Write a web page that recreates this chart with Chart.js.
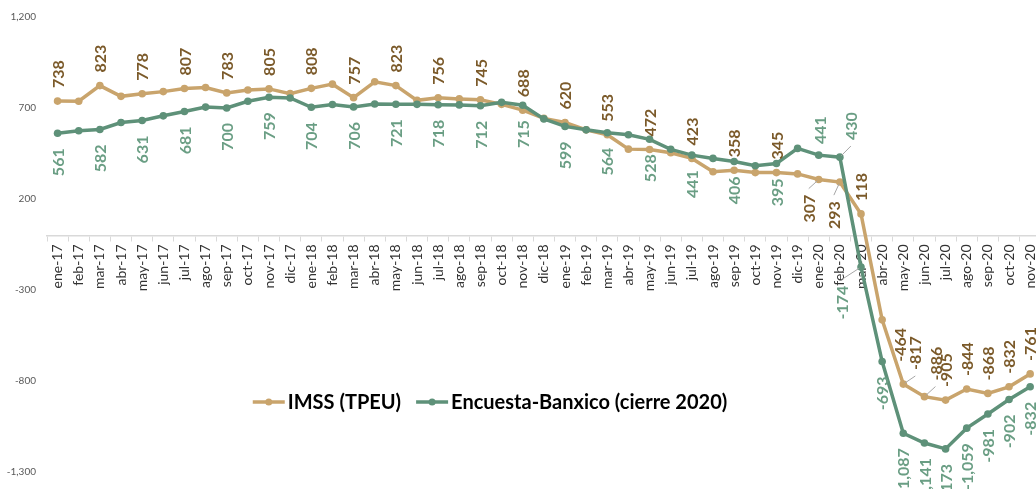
<!DOCTYPE html>
<html>
<head>
<meta charset="utf-8">
<script src="https://cdn.jsdelivr.net/npm/chart.js@4.4.1/dist/chart.umd.min.js"></script>
<style>
  html, body { margin: 0; padding: 0; background: #ffffff; overflow: hidden; width: 1036px; height: 489px; }
  #wrap { position: absolute; left: 0; top: 0; width: 1051px; height: 489px; }
  canvas { display: block; }
</style>
</head>
<body>
<div id="wrap"><canvas id="c" width="1051" height="489"></canvas></div>
<script>
// ---------- data ----------
const categories = [
  'ene-17','feb-17','mar-17','abr-17','may-17','jun-17','jul-17','ago-17','sep-17','oct-17','nov-17','dic-17',
  'ene-18','feb-18','mar-18','abr-18','may-18','jun-18','jul-18','ago-18','sep-18','oct-18','nov-18','dic-18',
  'ene-19','feb-19','mar-19','abr-19','may-19','jun-19','jul-19','ago-19','sep-19','oct-19','nov-19','dic-19',
  'ene-20','feb-20','mar-20','abr-20','may-20','jun-20','jul-20','ago-20','sep-20','oct-20','nov-20'
];
const imssTPEU = [
  738, 737, 823, 764, 778, 790, 807, 813, 783, 799, 805, 779,
  808, 831, 757, 844, 823, 742, 756, 750, 745, 720, 688, 643,
  620, 580, 553, 474, 472, 454, 423, 350, 358, 345, 345, 338,
  307, 293, 118, -464, -817, -886, -905, -844, -868, -832, -761
];
const encuestaBanxico = [
  561, 575, 582, 620, 631, 657, 681, 705, 700, 737, 759, 755,
  704, 719, 706, 722, 721, 720, 718, 717, 712, 731, 715, 640,
  599, 580, 564, 553, 528, 473, 441, 423, 406, 383, 395, 478,
  441, 430, -174, -693, -1087, -1141, -1173, -1059, -981, -902, -832
];
const yTickMin = -1300;
const yTickMax = 1200;
const yTickStep = 500;
const seriesNames = ['IMSS (TPEU)', 'Encuesta-Banxico (cierre 2020)'];

// ---------- styles ----------
const tanLine = '#C9A46C';
const tanText = '#7B5A2A';
const greenLine = '#5E9179';
const greenText = '#6A9E84';
const FONT = 'Lato, "Open Sans", "DejaVu Sans", sans-serif';

// label display: every other month, then every month from ene-20
function showLabel(i) { return i % 2 === 0 || i >= 36; }
// manual nudges of some labels (dx, dy of label centre from point, leader line)
const labelNudges = {
  0: {36: [-10, 29, 1], 37: [-6, 33, 1], 39: [18, 25, 0], 40: [12, -31, 1], 41: [11, -33, 1]},
  1: {36: [1, -25, 0], 37: [11, -31, 1], 38: [-19.5, 35.5, 1]}
};

function fmt(v) { return Number(v).toLocaleString('en-US'); }

const dataLabelPlugin = {
  id: 'dataLabelsCustom',
  afterDatasetsDraw(chart) {
    const ctx = chart.ctx;
    chart.data.datasets.forEach((ds, di) => {
      const meta = chart.getDatasetMeta(di);
      ctx.save();
      ctx.font = 'bold 16px ' + FONT;
      ctx.fillStyle = ds.labelColor;
      ctx.textAlign = 'center';
      ctx.textBaseline = 'middle';
      meta.data.forEach((pt, i) => {
        if (!showLabel(i)) return;
        const txt = fmt(ds.data[i]);
        const w = ctx.measureText(txt).width;
        let cx = pt.x, cy;
        const nudge = (labelNudges[di] || {})[i];
        if (nudge) {
          cx = pt.x + nudge[0];
          cy = pt.y + nudge[1];
          if (nudge[2]) {
            const ey = nudge[1] > 0 ? cy - w / 2 - 6 : cy + w / 2 + 6;
            const ex = cx;
            const vx = ex - pt.x, vy = ey - pt.y;
            const len = Math.sqrt(vx * vx + vy * vy) || 1;
            ctx.save();
            ctx.strokeStyle = '#A6A6A6';
            ctx.lineWidth = 1;
            ctx.beginPath();
            ctx.moveTo(pt.x + vx / len * 2, pt.y + vy / len * 2);
            ctx.lineTo(ex, ey);
            ctx.stroke();
            ctx.restore();
          }
        } else if (di === 0) {
          cy = pt.y - 13 - w / 2;
        } else {
          cy = pt.y + 15 + w / 2;
        }
        ctx.save();
        ctx.translate(cx, cy);
        ctx.rotate(-Math.PI / 2);
        ctx.fillText(txt, 0, 1);
        ctx.restore();
      });
      ctx.restore();
    });
  }
};

const legendPlugin = {
  id: 'legendCustom',
  afterDraw(chart) {
    const ctx = chart.ctx;
    ctx.save();
    ctx.font = 'bold 20px ' + FONT;
    ctx.textBaseline = 'middle';
    ctx.textAlign = 'left';
    const y = 402;
    const marker = 32, gapText = 3, gapItems = 15;
    const items = chart.data.datasets.map(ds => ({label: ds.label, color: ds.borderColor, w: ctx.measureText(ds.label).width}));
    const total = items.reduce((s, it) => s + marker + gapText + it.w, 0) + gapItems * (items.length - 1);
    let x = 490 - total / 2;
    items.forEach(it => {
      ctx.strokeStyle = it.color;
      ctx.lineWidth = 3.5;
      ctx.beginPath();
      ctx.moveTo(x, y);
      ctx.lineTo(x + marker, y);
      ctx.stroke();
      ctx.fillStyle = it.color;
      ctx.beginPath();
      ctx.arc(x + marker / 2, y, 3.5, 0, Math.PI * 2);
      ctx.fill();
      ctx.fillStyle = '#000000';
      ctx.fillText(it.label, x + marker + gapText, y + 1);
      x += marker + gapText + it.w + gapItems;
    });
    ctx.restore();
  }
};

new Chart(document.getElementById('c'), {
  type: 'line',
  data: {
    labels: categories,
    datasets: [
      {
        label: seriesNames[0],
        data: imssTPEU,
        borderColor: tanLine,
        backgroundColor: tanLine,
        pointBackgroundColor: tanLine,
        pointBorderWidth: 0,
        pointRadius: 3.8,
        borderWidth: 3.5,
        tension: 0,
        order: 1,
        labelColor: tanText
      },
      {
        label: seriesNames[1],
        data: encuestaBanxico,
        borderColor: greenLine,
        backgroundColor: greenLine,
        pointBackgroundColor: greenLine,
        pointBorderWidth: 0,
        pointRadius: 3.8,
        borderWidth: 3.5,
        tension: 0,
        order: 0,
        labelColor: greenText
      }
    ]
  },
  options: {
    responsive: false,
    devicePixelRatio: 1,
    animation: false,
    layout: { padding: { top: 15, bottom: 9, left: 0, right: 0 } },
    plugins: { legend: { display: false }, tooltip: { enabled: false } },
    scales: {
      x: {
        type: 'category',
        position: { y: 0 },
        offset: true,
        grid: { display: true, drawOnChartArea: false, offset: true, tickLength: 5, color: '#D9D9D9', lineWidth: 1 },
        border: { display: true, color: '#D9D9D9', width: 1.5 },
        ticks: {
          autoSkip: false, minRotation: 90, maxRotation: 90, padding: 4,
          font: { family: FONT, size: 14 }, color: '#333333'
        }
      },
      y: {
        min: yTickMin,
        max: yTickMax,
        grid: { display: false, drawTicks: false },
        border: { display: false },
        afterFit(scale) { scale.width = 47; },
        ticks: {
          stepSize: yTickStep,
          padding: 11,
          font: { family: FONT, size: 10 },
          color: '#595959',
          callback: v => fmt(v)
        }
      }
    }
  },
  plugins: [dataLabelPlugin, legendPlugin]
});
</script>
</body>
</html>
